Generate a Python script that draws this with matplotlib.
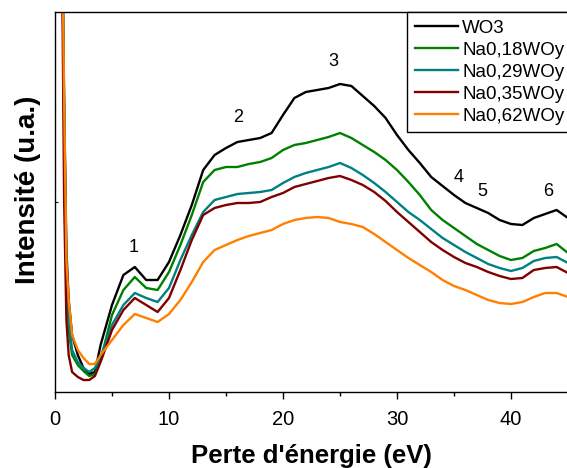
import numpy as np
import matplotlib
matplotlib.use("Agg")
import matplotlib.pyplot as plt

plt.rcParams['font.family'] = ['Liberation Sans', 'DejaVu Sans']


# energy loss (eV) and intensities (a.u.)
energy = [0.5, 0.8, 1.0, 1.2, 1.5, 2.0, 2.5, 3.0, 3.5, 4.0, 5, 6, 7, 8, 9, 10,
          11, 12, 13, 14, 15, 16, 17, 18, 19, 20, 21, 22, 23, 24, 25, 26, 27,
          28, 29, 30, 31, 32, 33, 34, 35, 36, 37, 38, 39, 40, 41, 42, 43, 44, 45]

wo3 = [592, 292, 142, 92, 57, 37, 24, 18, 20, 47, 87, 117, 125, 112, 112, 130,
       157, 187, 222, 237, 244, 250, 252, 254, 259, 277, 294, 300, 302, 304,
       308, 306, 296, 286, 274, 257, 242, 229, 215, 206, 197, 189, 184, 179,
       172, 168, 167, 174, 178, 182, 174]
na018 = [592, 272, 112, 62, 37, 27, 21, 16, 18, 32, 77, 102, 115, 104, 102,
         120, 147, 177, 210, 222, 225, 225, 228, 230, 234, 242, 247, 249, 252,
         255, 259, 254, 247, 240, 232, 222, 210, 197, 182, 172, 164, 156, 148,
         142, 136, 132, 134, 141, 144, 148, 139]
na029 = [592, 282, 122, 72, 42, 30, 24, 20, 24, 35, 67, 87, 99, 94, 90, 104,
         132, 157, 180, 192, 195, 198, 199, 200, 202, 209, 215, 219, 222, 225,
         229, 224, 217, 209, 200, 190, 180, 172, 163, 154, 147, 140, 134, 128,
         124, 121, 124, 131, 134, 135, 129]
na035 = [592, 192, 72, 37, 20, 15, 12, 12, 16, 30, 62, 82, 94, 87, 80, 94,
         122, 152, 177, 184, 187, 189, 189, 190, 195, 199, 205, 208, 211, 214,
         216, 212, 207, 200, 191, 180, 170, 160, 150, 142, 135, 129, 125, 120,
         116, 113, 114, 122, 124, 125, 119]
na062 = [592, 292, 132, 92, 57, 42, 34, 28, 28, 37, 52, 67, 78, 74, 70, 78,
         92, 110, 130, 142, 147, 152, 156, 159, 162, 168, 172, 174, 175, 174,
         170, 168, 165, 158, 150, 142, 134, 127, 120, 112, 106, 102, 97, 92,
         89, 88, 90, 95, 99, 99, 95]

series = [wo3, na018, na029, na035, na062]
names = ['WO3', 'Na0,18WOy', 'Na0,29WOy', 'Na0,35WOy', 'Na0,62WOy']
colors = ['#000000', '#008000', '#008080', '#800000', '#FF8000']

# peak labels
peak_lbl = ['1', '2', '3', '4', '5', '6']
peak_x = [6.9, 16.1, 24.4, 35.4, 37.5, 43.3]
peak_y = [144, 274, 330, 215, 201, 201]


fig = plt.figure(figsize=(5.67, 4.68), dpi=100)
ax = fig.add_axes([55 / 567, 1 - 392 / 468, 513 / 567, 380 / 468])

for s, name, c in zip(series, names, colors):
    ax.plot(energy, s, color=c, lw=1.7, label=name)

for t, x, y in zip(peak_lbl, peak_x, peak_y):
    ax.text(x, y, t, fontsize=13, ha='center', va='center')

ax.set_xlim(0, 45)
ax.set_ylim(0, 380)
ax.set_xticks([0, 10, 20, 30, 40])
ax.set_xticks([5, 15, 25, 35, 45], minor=True)
ax.set_yticks([190])
ax.set_yticklabels([])
ax.tick_params(axis='x', which='major', length=5, width=1, labelsize=14.5, pad=8)
ax.tick_params(axis='x', which='minor', length=3, width=1)
ax.tick_params(axis='y', which='major', length=2, direction='in')
for sp in ax.spines.values():
    sp.set_linewidth(1)

ax.set_xlabel("Perte d'énergie (eV)", fontsize=18.5, fontweight='bold')
ax.xaxis.set_label_coords(0.5, -0.137)
ax.set_ylabel("Intensité (u.a.)", fontsize=20, fontweight='bold')
ax.yaxis.set_label_coords(-0.027, 0.532)

leg = ax.legend(loc='upper left', bbox_to_anchor=(352 / 513, 1.0),
                borderaxespad=0, fontsize=13.5, frameon=True, fancybox=False,
                edgecolor='black', framealpha=1, handlelength=2.3,
                handletextpad=0.25, labelspacing=0.26, borderpad=0.4)
leg.get_frame().set_linewidth(1)

fig.savefig('out.png', dpi=100)
